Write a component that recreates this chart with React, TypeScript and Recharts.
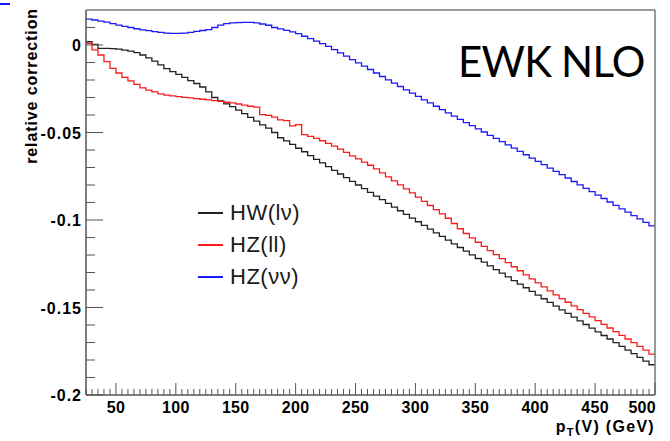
import React from 'react';
import { LineChart, Line, XAxis, YAxis, Legend, Label } from 'recharts';

// bin lower edges (GeV), 5 GeV bins
const binLow = [25,30,35,40,45,50,55,60,65,70,75,80,85,90,95,100,105,110,115,120,125,130,135,140,145,150,155,160,165,170,175,180,185,190,195,200,205,210,215,220,225,230,235,240,245,250,255,260,265,270,275,280,285,290,295,300,305,310,315,320,325,330,335,340,345,350,355,360,365,370,375,380,385,390,395,400,405,410,415,420,425,430,435,440,445,450,455,460,465,470,475,480,485,490,495];
const xMax = 500;

const hwValues = [0.0019,0.0004,-0.0019,-0.0019,-0.0021,-0.0024,-0.0029,-0.0035,-0.0044,-0.0057,-0.0073,-0.0092,-0.0113,-0.0135,-0.0152,-0.0168,-0.0185,-0.0203,-0.0220,-0.0240,-0.0268,-0.0300,-0.0320,-0.0336,-0.0352,-0.0372,-0.0392,-0.0413,-0.0435,-0.0456,-0.0475,-0.0500,-0.0530,-0.0548,-0.0568,-0.0590,-0.0610,-0.0632,-0.0653,-0.0674,-0.0695,-0.0716,-0.0737,-0.0758,-0.0779,-0.0800,-0.0821,-0.0842,-0.0863,-0.0884,-0.0905,-0.0926,-0.0947,-0.0968,-0.0989,-0.1010,-0.1031,-0.1052,-0.1073,-0.1094,-0.1115,-0.1136,-0.1157,-0.1178,-0.1199,-0.1220,-0.1241,-0.1262,-0.1283,-0.1304,-0.1325,-0.1346,-0.1366,-0.1387,-0.1408,-0.1429,-0.1450,-0.1471,-0.1492,-0.1513,-0.1534,-0.1555,-0.1576,-0.1597,-0.1618,-0.1639,-0.1660,-0.1680,-0.1701,-0.1722,-0.1743,-0.1764,-0.1785,-0.1806,-0.1827];

const hzllValues = [0.0010,-0.0028,-0.0057,-0.0095,-0.0133,-0.0160,-0.0185,-0.0205,-0.0225,-0.0245,-0.0258,-0.0268,-0.0279,-0.0286,-0.0291,-0.0295,-0.0299,-0.0302,-0.0306,-0.0310,-0.0314,-0.0318,-0.0322,-0.0327,-0.0331,-0.0337,-0.0343,-0.0350,-0.0355,-0.0398,-0.0402,-0.0412,-0.0428,-0.0432,-0.0462,-0.0455,-0.0512,-0.0522,-0.0533,-0.0547,-0.0562,-0.0578,-0.0595,-0.0614,-0.0633,-0.0651,-0.0669,-0.0687,-0.0708,-0.0731,-0.0754,-0.0776,-0.0799,-0.0822,-0.0845,-0.0869,-0.0893,-0.0917,-0.0941,-0.0965,-0.0990,-0.1020,-0.1050,-0.1077,-0.1102,-0.1127,-0.1151,-0.1175,-0.1198,-0.1221,-0.1244,-0.1267,-0.1290,-0.1313,-0.1336,-0.1359,-0.1382,-0.1405,-0.1428,-0.1449,-0.1470,-0.1491,-0.1512,-0.1533,-0.1554,-0.1575,-0.1596,-0.1617,-0.1638,-0.1659,-0.1680,-0.1701,-0.1722,-0.1743,-0.1766];

const hzvvValues = [0.0148,0.0143,0.0137,0.0131,0.0122,0.0114,0.0107,0.0100,0.0093,0.0087,0.0082,0.0076,0.0072,0.0068,0.0066,0.0066,0.0068,0.0072,0.0078,0.0083,0.0088,0.0100,0.0114,0.0122,0.0126,0.0128,0.0129,0.0129,0.0126,0.0120,0.0113,0.0100,0.0092,0.0084,0.0075,0.0065,0.0050,0.0037,0.0022,0.0008,-0.0008,-0.0026,-0.0045,-0.0064,-0.0083,-0.0102,-0.0121,-0.0140,-0.0160,-0.0180,-0.0199,-0.0218,-0.0237,-0.0256,-0.0275,-0.0294,-0.0313,-0.0331,-0.0350,-0.0369,-0.0388,-0.0406,-0.0425,-0.0443,-0.0461,-0.0479,-0.0497,-0.0516,-0.0534,-0.0552,-0.0571,-0.0589,-0.0608,-0.0627,-0.0646,-0.0665,-0.0684,-0.0703,-0.0722,-0.0741,-0.0760,-0.0780,-0.0799,-0.0819,-0.0838,-0.0858,-0.0877,-0.0897,-0.0916,-0.0936,-0.0955,-0.0975,-0.0994,-0.1014,-0.1033];

const seriesNames = ['HW(l\u03bd)', 'HZ(ll)', 'HZ(\u03bd\u03bd)'];
const seriesColors = ['#222222', '#ff1a1a', '#1a1aff'];

const xMajorTicks = [50,100,150,200,250,300,350,400,450,500];
const xAllTicks = [25,30,35,40,45,50,55,60,65,70,75,80,85,90,95,100,105,110,115,120,125,130,135,140,145,150,155,160,165,170,175,180,185,190,195,200,205,210,215,220,225,230,235,240,245,250,255,260,265,270,275,280,285,290,295,300,305,310,315,320,325,330,335,340,345,350,355,360,365,370,375,380,385,390,395,400,405,410,415,420,425,430,435,440,445,450,455,460,465,470,475,480,485,490,495,500];
const yMajorTicks = [-0.2,-0.15,-0.1,-0.05,0];
const yTickLabels = ['-0.2','-0.15','-0.1','-0.05','0'];
const yAllTicks = [-0.2,-0.19,-0.18,-0.17,-0.16,-0.15,-0.14,-0.13,-0.12,-0.11,-0.1,-0.09,-0.08,-0.07,-0.06,-0.05,-0.04,-0.03,-0.02,-0.01,0,0.01];

const rows = binLow.map((x, i) => ({ x, hw: hwValues[i], hzll: hzllValues[i], hzvv: hzvvValues[i] }));
rows.push({ x: xMax, hw: hwValues[hwValues.length - 1], hzll: hzllValues[hzllValues.length - 1], hzvv: hzvvValues[hzvvValues.length - 1] });

const tickFont = { fontFamily: '"Liberation Sans", Arial, sans-serif', fontWeight: 700, fontSize: 16 };
const AX = '#555';

const XTick = (props: any) => {
  const { x, y, payload } = props;
  const v = payload.value;
  const major = xMajorTicks.includes(v);
  const len = major ? 12 : 6;
  const isLast = v === xMax;
  return (
    <g>
      <line x1={x} x2={x} y1={y} y2={y - len} stroke={AX} strokeWidth={1} />
      {major && (
        <text x={isLast ? x + 1 : x} y={y + 18} textAnchor={isLast ? 'end' : 'middle'} fill="#000" style={{ ...tickFont, letterSpacing: 0.3 }}>
          {v}
        </text>
      )}
    </g>
  );
};

const YTick = (props: any) => {
  const { x, y, payload } = props;
  const v = payload.value;
  const idx = yMajorTicks.findIndex((m) => Math.abs(m - v) < 1e-9);
  const major = idx >= 0;
  const len = major ? 17 : 9;
  return (
    <g>
      <line x1={x} x2={x + len} y1={y} y2={y} stroke={AX} strokeWidth={1} />
      {major && (
        <text x={x - 4} y={y + 6} textAnchor="end" fill="#000" style={{ ...tickFont, letterSpacing: 1 }}>
          {yTickLabels[idx]}
        </text>
      )}
    </g>
  );
};

const XTitle = (props: any) => {
  const vb = props.viewBox || {};
  const right = (vb.x || 0) + (vb.width || 0);
  return (
    <text x={right} y={432} textAnchor="end" fill="#000" style={{ ...tickFont, letterSpacing: 1.3 }}>
      p<tspan fontSize={11} dy={4}>T</tspan><tspan dy={-4}>(V) (GeV)</tspan>
    </text>
  );
};

const YTitle = (props: any) => {
  const vb = props.viewBox || {};
  const top = (vb.y || 10) - 2;
  return (
    <text x={37} y={top} transform={`rotate(-90, 37, ${top})`} textAnchor="end" fill="#000" style={{ ...tickFont, letterSpacing: 0.9 }}>
      relative correction
    </text>
  );
};

const renderLegend = (props: any) => {
  const { payload } = props;
  return (
    <div>
      {(payload || []).map((p: any, i: number) => (
        <div key={p.value} style={{ display: 'flex', alignItems: 'center', height: 32 }}>
          <div style={{ width: 25, height: 1.3, background: p.color || seriesColors[i] }} />
          <span style={{ marginLeft: 7, fontFamily: '"Liberation Sans", Arial, sans-serif', fontSize: 22, color: '#1a1a1a', letterSpacing: 0.5, lineHeight: '32px' }}>
            {p.value}
          </span>
        </div>
      ))}
    </div>
  );
};

export default function App() {
  return (
    <div style={{ position: 'absolute', left: 0, top: 0, width: 670, height: 441, background: '#fff' }}>
      <LineChart width={670} height={441} data={rows} margin={{ top: 9, right: 14, bottom: 45, left: 85 }}>
        <XAxis
          dataKey="x"
          type="number"
          domain={[25, 500]}
          ticks={xAllTicks}
          interval={0}
          height={1}
          tickSize={0}
          tickMargin={0}
          tickLine={false}
          tick={<XTick />}
          axisLine={{ stroke: AX, strokeWidth: 1.5 }}
          allowDataOverflow
        >
          <Label content={<XTitle />} />
        </XAxis>
        <XAxis xAxisId="top" orientation="top" type="number" domain={[25, 500]} height={1} tick={false} tickLine={false} axisLine={{ stroke: '#777', strokeWidth: 1.5 }} />
        <YAxis
          type="number"
          domain={[-0.2, 0.02]}
          ticks={yAllTicks}
          interval={0}
          width={1}
          tickSize={0}
          tickMargin={0}
          tickLine={false}
          tick={<YTick />}
          axisLine={{ stroke: AX, strokeWidth: 1.5 }}
          allowDataOverflow
        >
          <Label content={<YTitle />} />
        </YAxis>
        <YAxis yAxisId="right" orientation="right" type="number" domain={[-0.2, 0.02]} width={1} tick={false} tickLine={false} axisLine={{ stroke: '#777', strokeWidth: 1.5 }} />
        <Legend
          layout="vertical"
          align="center"
          verticalAlign="middle"
          content={renderLegend}
          wrapperStyle={{ left: 198, top: 197, width: 140, height: 96 }}
        />
        <Line dataKey="hw" name={seriesNames[0]} type="stepAfter" stroke={seriesColors[0]} strokeWidth={1.3} dot={false} isAnimationActive={false} />
        <Line dataKey="hzll" name={seriesNames[1]} type="stepAfter" stroke={seriesColors[1]} strokeWidth={1.3} dot={false} isAnimationActive={false} />
        <Line dataKey="hzvv" name={seriesNames[2]} type="stepAfter" stroke={seriesColors[2]} strokeWidth={1.3} dot={false} isAnimationActive={false} />
      </LineChart>
      <svg width={670} height={441} style={{ position: 'absolute', left: 0, top: 0, pointerEvents: 'none' }}>
        <rect x={0} y={3} width={10} height={2} fill="#1a1aff" />
        <text x={458} y={77} fill="#000" style={{ fontFamily: 'Lato, "Open Sans", sans-serif', fontSize: 42, letterSpacing: -0.8 }}>
          EWK NLO
        </text>
      </svg>
    </div>
  );
}
